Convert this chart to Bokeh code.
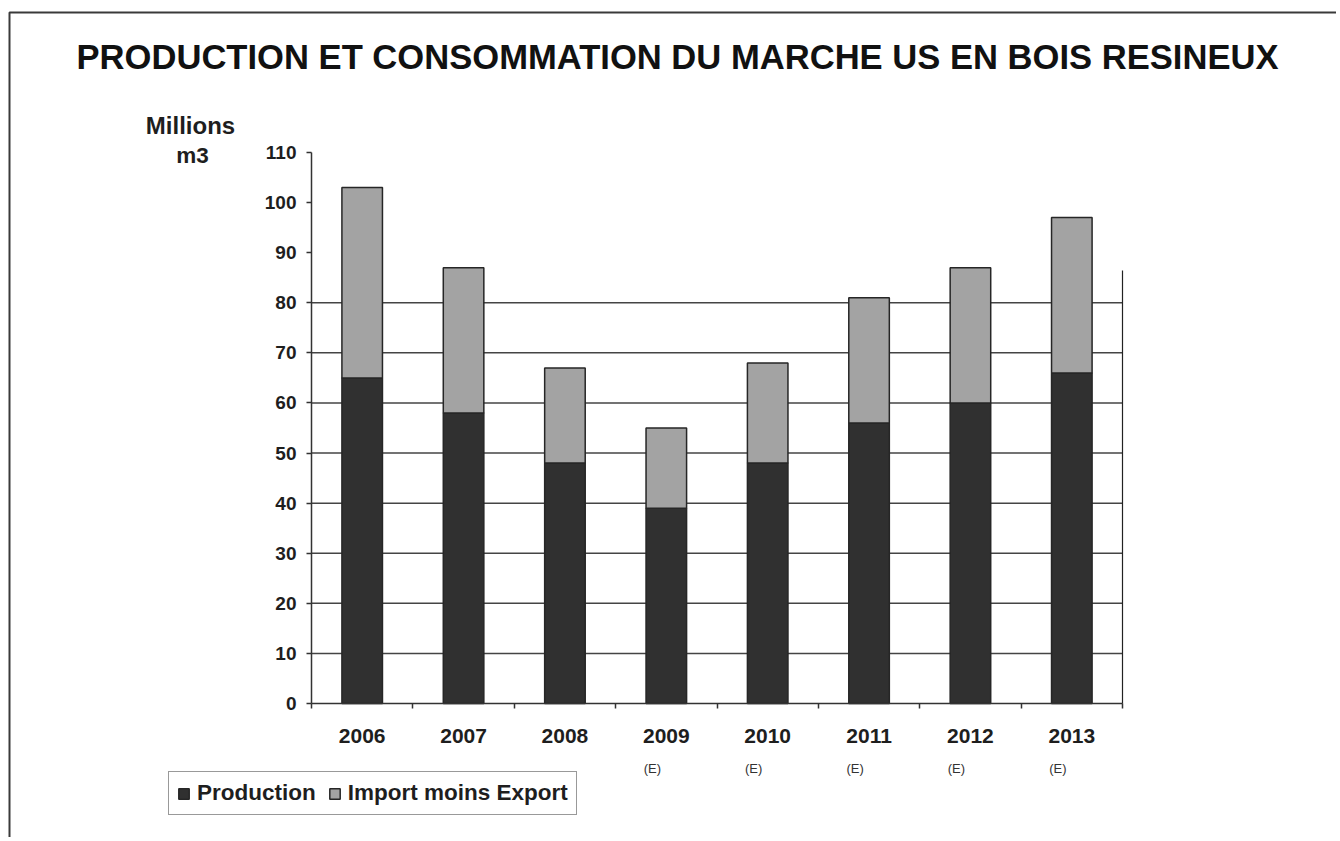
from bokeh.plotting import figure
from bokeh.models import (Range1d, FixedTicker, LinearAxis, Label, LabelSet,
                          ColumnDataSource, Legend, LegendItem, BoxAnnotation)
from bokeh.core.properties import value
from bokeh.embed import file_html
from bokeh.resources import INLINE

# ---- data ----
years = ["2006", "2007", "2008", "2009", "2010", "2011", "2012", "2013"]
production = [65, 58, 48, 39, 48, 56, 60, 66]
import_moins_export = [38, 29, 19, 16, 20, 25, 27, 31]
estimated_years = ["2009", "2010", "2011", "2012", "2013"]
estimate_mark = "(E)"
y_ticks = [0, 10, 20, 30, 40, 50, 60, 70, 80, 90, 100, 110]
grid_ticks = [10, 20, 30, 40, 50, 60, 70, 80]
right_line_top = 86.5
title_text = "PRODUCTION ET CONSOMMATION DU MARCHE US EN BOIS RESINEUX"
unit_lines = ["Millions", "m3"]
series_names = ["Production", "Import moins Export"]

FONT = "Liberation Sans"
DARK = "#303030"
LIGHT = "#a3a3a3"
EDGE = "#262626"
AX = "#333333"

# ---- layout (pixels) ----
W, H = 1336, 837
PX_LEFT, PX_RIGHT = 311, 1122      # plot area horizontal extent
PX_TOP, PX_BOTTOM = 152, 703       # y = 110 and y = 0

xs = [i + 1 for i in range(len(years))]
x_lo, x_hi = xs[0] - 0.5, xs[-1] + 0.5
y_lo, y_hi = y_ticks[0], y_ticks[-1]
kx = (PX_RIGHT - PX_LEFT) / (x_hi - x_lo)
ky = (PX_BOTTOM - PX_TOP) / (y_hi - y_lo)
x_range = Range1d(x_lo - PX_LEFT / kx, x_hi + (W - PX_RIGHT) / kx)
y_range = Range1d(y_lo - (H - PX_BOTTOM) / ky, y_hi + PX_TOP / ky)

p = figure(width=W, height=H, x_range=x_range, y_range=y_range,
           output_backend="svg", toolbar_location=None,
           x_axis_location=None, y_axis_location=None,
           min_border=0, min_border_left=0, min_border_right=0,
           min_border_top=0, min_border_bottom=0,
           background_fill_color="white", border_fill_color="white",
           outline_line_color=None)
p.grid.visible = False

# grid lines (behind bars)
p.segment(x0=[x_lo] * len(grid_ticks), x1=[x_hi] * len(grid_ticks),
          y0=grid_ticks, y1=grid_ticks, line_color="#444444", line_width=1.5)

src = ColumnDataSource(dict(x=xs, prod=production, imp=import_moins_export))
rs = p.vbar_stack(["prod", "imp"], x="x", width=0.4, source=src,
                  fill_color=[DARK, LIGHT], line_color=EDGE, line_width=1.5)

# y axis
ya = LinearAxis(fixed_location=x_lo, bounds=(y_lo, y_hi),
                ticker=FixedTicker(ticks=y_ticks, minor_ticks=[]))
ya.axis_line_color = AX
ya.axis_line_width = 1.5
ya.major_tick_line_color = AX
ya.major_tick_line_width = 1.5
ya.major_tick_out = 5
ya.major_tick_in = 0
ya.minor_tick_line_color = None
ya.major_label_standoff = 10
ya.major_label_text_font = FONT
ya.major_label_text_font_style = "bold"
ya.major_label_text_font_size = "19px"
ya.major_label_text_color = "#1e1e1e"
p.add_layout(ya, "left")

# x axis: labels at centres, ticks between categories
xa = LinearAxis(fixed_location=y_lo, bounds=(x_lo, x_hi),
                ticker=FixedTicker(ticks=xs, minor_ticks=[x - 0.5 for x in xs] + [x_hi]))
xa.major_label_overrides = {x: y for x, y in zip(xs, years)}
xa.axis_line_color = AX
xa.axis_line_width = 1.5
xa.major_tick_line_color = None
xa.major_tick_out = 0
xa.major_tick_in = 0
xa.minor_tick_line_color = AX
xa.minor_tick_line_width = 1.5
xa.minor_tick_out = 5
xa.minor_tick_in = 0
xa.major_label_standoff = 20
xa.major_label_text_font = FONT
xa.major_label_text_font_style = "bold"
xa.major_label_text_font_size = "21px"
xa.major_label_text_color = "#1e1e1e"
p.add_layout(xa, "below")

# right-hand vertical line
ra = LinearAxis(fixed_location=x_hi, bounds=(y_lo, right_line_top),
                ticker=FixedTicker(ticks=[], minor_ticks=[]),
                axis_line_color="#222222", axis_line_width=1.2,
                major_tick_line_color=None, minor_tick_line_color=None,
                major_label_text_font_size="0px")
p.add_layout(ra, "right")

# estimated markers
est_x = [xs[years.index(y)] for y in estimated_years]
est_src = ColumnDataSource(dict(x=est_x, t=[estimate_mark] * len(est_x)))
p.add_layout(LabelSet(x="x", y=H - 768, y_units="screen", text="t", source=est_src,
                      x_offset=-14, text_align="center", text_baseline="middle",
                      text_font=value(FONT), text_font_size="13px",
                      text_color="#333333"))

# title and unit labels (screen units from bottom-left of the figure)
p.add_layout(Label(x=677, y=H - 56, x_units="screen", y_units="screen",
                   text=title_text, text_align="center", text_baseline="middle",
                   text_font=FONT, text_font_style="bold", text_font_size="34.6px",
                   text_color="#111111"))
p.add_layout(Label(x=190, y=H - 125, x_units="screen", y_units="screen",
                   text=unit_lines[0], text_align="center", text_baseline="middle",
                   text_font=FONT, text_font_style="bold", text_font_size="24px",
                   text_color="#1e1e1e"))
p.add_layout(Label(x=192, y=H - 155, x_units="screen", y_units="screen",
                   text=unit_lines[1], text_align="center", text_baseline="middle",
                   text_font=FONT, text_font_style="bold", text_font_size="22.5px",
                   text_color="#1e1e1e"))

# outer frame
p.add_layout(BoxAnnotation(left=9, right=W + 50, top=H - 12, bottom=-50,
                           left_units="screen", right_units="screen",
                           top_units="screen", bottom_units="screen",
                           fill_alpha=0, line_color="#3a3a3a", line_alpha=1,
                           line_width=2))

# legend
legend = Legend(items=[LegendItem(label=series_names[0], renderers=[rs[0]]),
                       LegendItem(label=series_names[1], renderers=[rs[1]])],
                location=(168, H - 815), orientation="horizontal",
                label_text_font=FONT, label_text_font_style="bold",
                label_text_font_size="22.5px", label_text_color="#1e1e1e",
                glyph_width=13, glyph_height=13, label_standoff=7,
                spacing=12, padding=8, margin=0,
                border_line_color="#333333", border_line_width=1.5,
                background_fill_color="white", background_fill_alpha=1)
p.add_layout(legend)

open("out.html", "w").write(file_html(p, INLINE))
